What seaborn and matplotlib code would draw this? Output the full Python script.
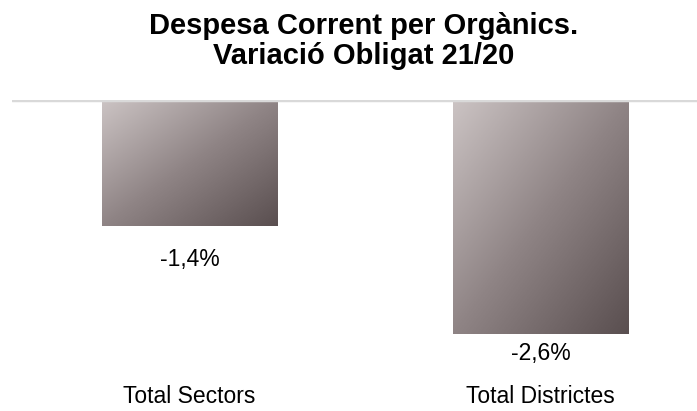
import numpy as np
import pandas as pd
import matplotlib
matplotlib.use("Agg")
import matplotlib.pyplot as plt
from matplotlib.colors import LinearSegmentedColormap
import seaborn as sns

categories = ["Total Sectors", "Total Districtes"]
values = [-1.4, -2.6]
value_labels = ["-1,4%", "-2,6%"]
title = "Despesa Corrent per Orgànics.\nVariació Obligat 21/20"

sns.set_style("white")
plt.rcParams['font.family'] = ['Liberation Sans', 'DejaVu Sans']

df = pd.DataFrame({"cat": categories, "val": values})

fig = plt.figure(figsize=(6.97, 4.11), dpi=100)
ax = fig.add_axes([12 / 697, 1 - 370 / 411, 685 / 697, 270 / 411])

sns.barplot(data=df, x="cat", y="val", width=0.5, color="#8a7f80", ax=ax)

# diagonal gradient: light top-left -> dark bottom-right
cmap = LinearSegmentedColormap.from_list("g", ["#cbc3c3", "#8f8485", "#5a4f50"])
gx, gy = np.meshgrid(np.linspace(0, 1, 100), np.linspace(0, 1, 100))
grad = (gx + gy) / 2
for p in ax.patches:
    x0, y0 = p.get_x(), p.get_y()
    w, h = p.get_width(), p.get_height()
    top, bot = max(y0, y0 + h), min(y0, y0 + h)
    im = ax.imshow(grad, cmap=cmap, extent=[x0, x0 + w, bot, top],
                   origin="upper", aspect="auto", zorder=2)
    im.set_clip_path(p)
    p.set_facecolor("none")

ax.set_xlim(-0.5057, 1.446)
ax.set_ylim(-3.0, 0)

ax.axhline(0, color="#d9d9d9", lw=2.5, zorder=3)

# label centre distance below bar end, in pixels
offsets = [33, 19]
for i, (v, lab) in enumerate(zip(values, value_labels)):
    ax.annotate(lab, (i, v), xytext=(0, -offsets[i] * 0.72), textcoords="offset points",
                ha="center", va="center", fontsize=16.5, color="black")

ax.set_xlabel("")
ax.set_ylabel("")
ax.set_yticks([])
ax.tick_params(axis="x", length=0, pad=11, labelsize=16.5, labelcolor="black")
for s in ax.spines.values():
    s.set_visible(False)

fig.text(364 / 697, 1 - 41 / 411, title, ha="center", va="center",
         fontsize=21, fontweight="bold", linespacing=1.13, color="black")

fig.savefig("out.png", dpi=100)
